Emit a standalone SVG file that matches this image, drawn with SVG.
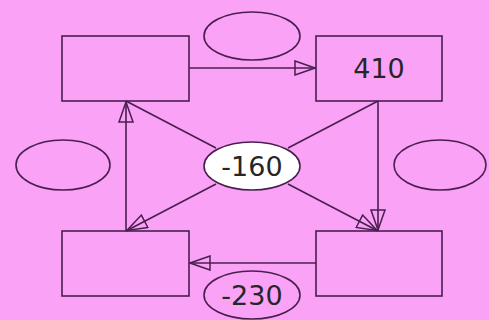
<svg xmlns="http://www.w3.org/2000/svg" width="489" height="320" viewBox="0 0 489 320">
<style>
.n{fill:none;stroke:#4a1f4f;stroke-width:1.6}
.e{stroke:#4a1f4f;stroke-width:1.6;fill:none}
.t{font-family:"DejaVu Sans",sans-serif;font-size:27px;fill:#262626;text-anchor:middle;dominant-baseline:central}
</style>
<defs>
<marker id="ah" viewBox="0 0 22 16" refX="22" refY="8" markerWidth="22" markerHeight="16" markerUnits="userSpaceOnUse" orient="auto">
<path d="M1,1 L21,8 L1,15 Z" fill="none" stroke="#4a1f4f" stroke-width="1.5"/>
</marker>
</defs>
<rect width="489" height="320" fill="#f9a2f6"/>
<g id="connectors">
<line class="e" x1="189" y1="68" x2="316" y2="68" marker-end="url(#ah)"/>
<line class="e" x1="126" y1="231" x2="126" y2="101" marker-end="url(#ah)"/>
<line class="e" x1="378" y1="101" x2="378" y2="231" marker-end="url(#ah)"/>
<line class="e" x1="316" y1="263" x2="189" y2="263" marker-end="url(#ah)"/>
<line class="e" x1="216" y1="148" x2="126" y2="101"/>
<line class="e" x1="288" y1="148" x2="378" y2="101"/>
<line class="e" x1="216" y1="184" x2="126" y2="231" marker-end="url(#ah)"/>
<line class="e" x1="288" y1="184" x2="378" y2="231" marker-end="url(#ah)"/>
</g>
<g id="box-tl"><rect class="n" x="62" y="36" width="127" height="65"/></g>
<g id="box-tr"><rect class="n" x="316" y="36" width="126" height="65"/><text class="t" x="379" y="68">410</text></g>
<g id="box-bl"><rect class="n" x="62" y="231" width="127" height="65"/></g>
<g id="box-br"><rect class="n" x="316" y="231" width="126" height="65"/></g>
<g id="ell-top"><ellipse class="n" cx="252" cy="36" rx="48" ry="24"/></g>
<g id="ell-left"><ellipse class="n" cx="63" cy="165" rx="47" ry="25"/></g>
<g id="ell-right"><ellipse class="n" cx="440" cy="165" rx="46" ry="25"/></g>
<g id="ell-center"><ellipse cx="252" cy="166" rx="48" ry="24" fill="#ffffff" stroke="#4a1f4f" stroke-width="1.6"/><text class="t" x="252" y="166">-160</text></g>
<g id="ell-bottom"><ellipse class="n" cx="252" cy="295" rx="48" ry="24"/><text class="t" x="252" y="295">-230</text></g>
</svg>
